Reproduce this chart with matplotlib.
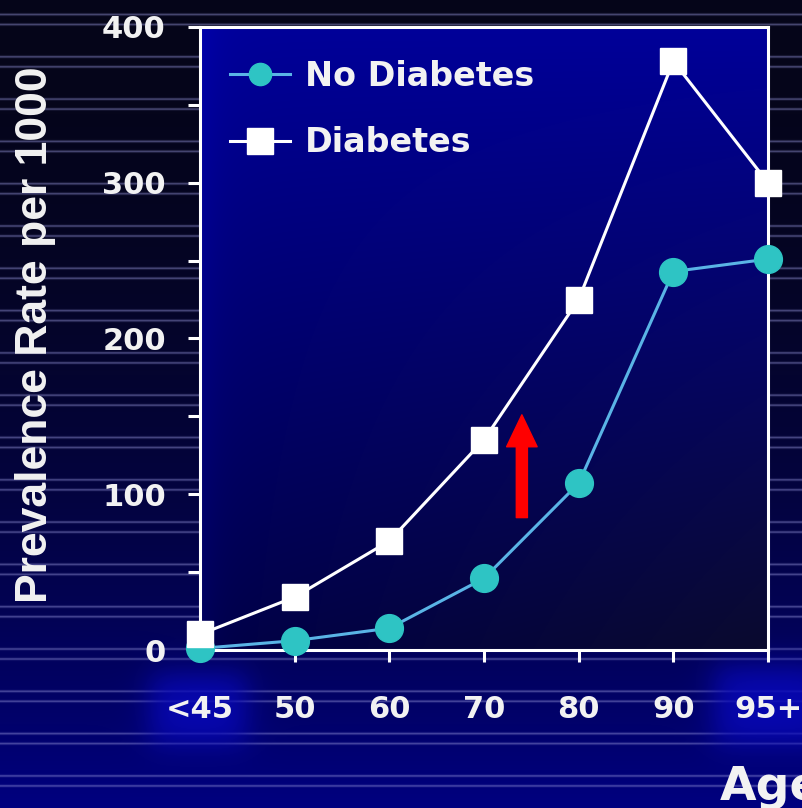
import numpy as np
import matplotlib
matplotlib.use("Agg")
import matplotlib.pyplot as plt
from matplotlib.patches import FancyArrowPatch, ArrowStyle

# ---- data -------------------------------------------------------------
age_groups = ["<45", "50", "60", "70", "80", "90", "95+"]
no_diabetes = [1, 6, 14, 46, 107, 243, 251]
diabetes = [10, 34, 70, 135, 225, 378, 300]
series_labels = ["No Diabetes", "Diabetes"]
y_ticks = [0, 100, 200, 300, 400]

# ---- figure -----------------------------------------------------------
W, H = 802, 808
DPI = 100
fig = plt.figure(figsize=(W / DPI, H / DPI), dpi=DPI)

# slide-style background: dark navy fading to blue, thin light stripes
yy = np.linspace(0, 1, H)[:, None]
xx = np.linspace(0, 1, W)[None, :]
bg = np.zeros((H, W, 3))
t = yy ** 2
bg[..., 0] = 0.02 * (1 - t) + 0 * xx
bg[..., 1] = 0.02 * (1 - t) + 0 * xx
bg[..., 2] = 0.10 + 0.40 * t + 0 * xx

stripe = np.zeros(H)
period = 42.3
start = 14.0
k = 0
while start + period * k < H + period:
    for off in (0.0, 10.0):
        c = start + period * k + off
        stripe += np.exp(-0.5 * ((np.arange(H) - c) / 0.8) ** 2)
    k += 1
stripe = np.clip(stripe, 0, 1)[:, None, None] * 0.45
stripe_col = np.array([0.58, 0.58, 0.85])
bg = bg * (1 - stripe) + stripe_col * stripe

# soft blue glows behind the end-category labels
py = np.arange(H)[:, None]
px = np.arange(W)[None, :]

def glow(x0, x1, y0, y1, s=9.0):
    gx = 1 / (1 + np.exp(-(px - x0) / s)) * 1 / (1 + np.exp((px - x1) / s))
    gy = 1 / (1 + np.exp(-(py - y0) / s)) * 1 / (1 + np.exp((py - y1) / s))
    return gx * gy

g = np.clip(glow(150, 246, 674, 744) + glow(714, 830, 666, 744), 0, 1)[..., None] * 0.9
glow_col = np.array([0.03, 0.03, 0.72])
bg = bg * (1 - g) + glow_col * g

bg_ax = fig.add_axes([0, 0, 1, 1], zorder=0)
bg_ax.imshow(bg, extent=(0, 1, 0, 1), aspect="auto", interpolation="bilinear")
bg_ax.set_axis_off()

# ---- main axes ----------------------------------------------------------
left, right, top, bottom = 200, 768, 27, 650
ax = fig.add_axes([left / W, (H - bottom) / H, (right - left) / W, (bottom - top) / H],
                  zorder=1)

# plot-area gradient: bright blue top-left to dark navy bottom-right
ph, pw = 300, 300
u = np.linspace(0, 1, pw)[None, :]
v = np.linspace(0, 1, ph)[:, None]
pa = np.zeros((ph, pw, 3))
b = 0.60 - 0.32 * v - 0.10 * u * v + 0.08 * np.exp(-u / 0.03)
pa[..., 0] = 0.04 * u * v
pa[..., 1] = 0.04 * u * v
pa[..., 2] = b
ax.imshow(pa, extent=(0, 1, 0, 1), transform=ax.transAxes, aspect="auto",
          interpolation="bilinear", zorder=0)

x = np.arange(len(age_groups))
ax.plot(x, no_diabetes, color="#5ab4e6", lw=2.2, marker="o", markersize=20,
        markerfacecolor="#2ec4c4", markeredgecolor="#2ec4c4",
        label=series_labels[0], clip_on=False, zorder=4)
ax.plot(x, diabetes, color="white", lw=2.2, marker="s", markersize=19,
        markerfacecolor="white", markeredgecolor="white",
        label=series_labels[1], clip_on=False, zorder=5)

ax.set_xlim(0, len(age_groups) - 1)
ax.set_ylim(0, 400)

for s in ax.spines.values():
    s.set_color("white")
    s.set_linewidth(2.2)
    s.set_zorder(3)

ax.set_xticks(x)
ax.set_xticklabels(age_groups)
ax.set_yticks(y_ticks)
ax.set_yticks(np.arange(50, 400, 100), minor=True)
for lab in ax.get_xticklabels() + ax.get_yticklabels():
    lab.set_fontsize(22)
    lab.set_fontweight("bold")
    lab.set_color("#f2f2f2")
ax.tick_params(axis="both", which="both", direction="out", length=8.6, width=2.2,
               color="white")
ax.tick_params(axis="y", which="major", pad=16)
ax.tick_params(axis="x", which="major", pad=24)

# legend
leg = ax.legend(loc="upper left", bbox_to_anchor=(0.053, 0.947), frameon=False,
                borderpad=0, borderaxespad=0, handlelength=1.8, handletextpad=0.45,
                labelspacing=1.0, numpoints=1,
                prop=dict(size=24, weight="bold", family="DejaVu Sans"))
for txt in leg.get_texts():
    txt.set_color("#f2f2f2")
leg.legend_handles[0].set_markersize(16)

# red arrow marking the gap between the curves
arrow = FancyArrowPatch((3.4, 85), (3.4, 151),
                        arrowstyle=ArrowStyle.Simple(head_length=23, head_width=22,
                                                     tail_width=8),
                        mutation_scale=1, color="#ff0000", shrinkA=0, shrinkB=0,
                        zorder=6)
ax.add_patch(arrow)

# axis titles
fig.text(36 / W, 1 - 335 / H, "Prevalence Rate per 1000", rotation=90,
         ha="center", va="center", fontsize=32, fontweight="bold",
         family="Liberation Sans", color="#f2f2f2", zorder=2)
fig.text(720 / W, (H - 800) / H, "Age", ha="left", va="baseline",
         fontsize=34, fontweight="bold", family="DejaVu Sans", color="#f2f2f2",
         zorder=2)

fig.savefig("out.png", dpi=DPI)
